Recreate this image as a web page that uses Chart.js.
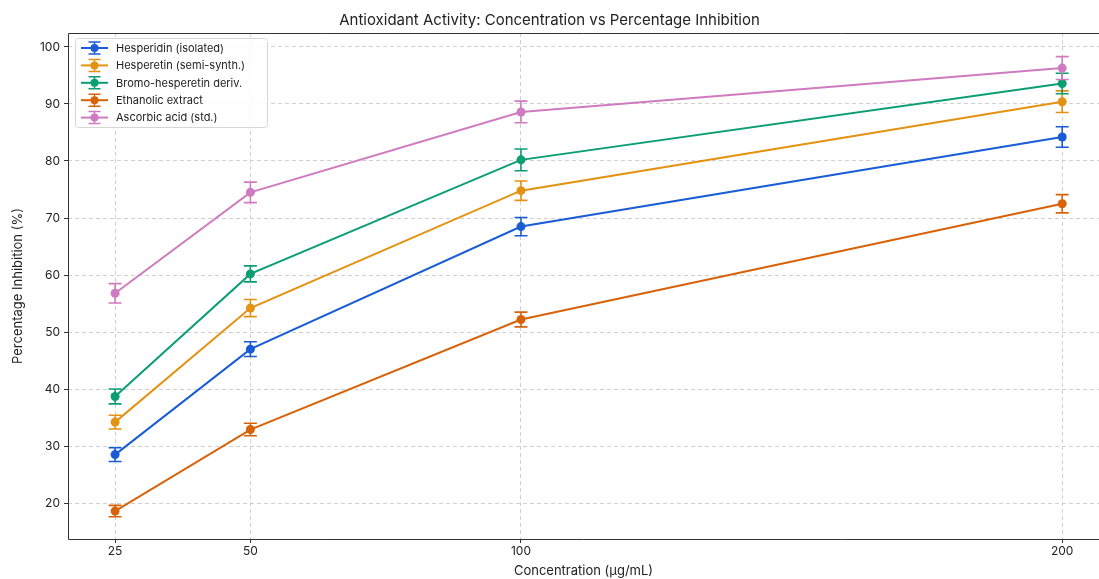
<!DOCTYPE html>
<html>
<head>
<meta charset="utf-8">
<script src="https://cdn.jsdelivr.net/npm/chart.js@4"></script>
<style>
  html, body { margin: 0; padding: 0; background: #fff; }
  #wrap { width: 1099px; height: 579px; }
</style>
</head>
<body>
<div id="wrap"><canvas id="antioxChart"></canvas></div>
<script>
// concentrations (µg/mL)
const concentrations = [25, 50, 100, 200];
const xTicks = [25, 50, 100, 200];
const yTicks = [20, 30, 40, 50, 60, 70, 80, 90, 100];

const seriesNames = [
  "Hesperidin (isolated)",
  "Hesperetin (semi-synth.)",
  "Bromo-hesperetin deriv.",
  "Ethanolic extract",
  "Ascorbic acid (std.)",
];
const hesperidin = [28.5, 47.0, 68.5, 84.2];
const hesperetin = [34.2, 54.2, 74.8, 90.4];
const bromoHesperetin = [38.7, 60.2, 80.2, 93.6];
const ethanolic = [18.6, 32.9, 52.2, 72.5];
const ascorbic = [56.8, 74.5, 88.6, 96.3];

const hesperidinErr = [1.2, 1.3, 1.6, 1.8];
const hesperetinErr = [1.2, 1.5, 1.7, 1.9];
const bromoErr = [1.3, 1.4, 1.9, 1.8];
const ethanolicErr = [1.0, 1.1, 1.3, 1.6];
const ascorbicErr = [1.7, 1.8, 1.9, 2.0];

const colors = ["#1a5cd6", "#e39212", "#0b9e73", "#d8620a", "#cf7bc0"];
const allValues = [hesperidin, hesperetin, bromoHesperetin, ethanolic, ascorbic];
const allErrors = [hesperidinErr, hesperetinErr, bromoErr, ethanolicErr, ascorbicErr];

const FONT = "Inter, 'DejaVu Sans', sans-serif";

const datasets = seriesNames.map(function (name, i) {
  return {
    label: name,
    data: concentrations.map(function (c, j) { return { x: c, y: allValues[i][j] }; }),
    errors: allErrors[i],
    borderColor: colors[i],
    backgroundColor: colors[i],
    pointBackgroundColor: colors[i],
    pointBorderColor: colors[i],
    pointBorderWidth: 0,
    pointRadius: 4.5,
    pointHoverRadius: 4.5,
    borderWidth: 2,
    tension: 0,
  };
});

// vertical error bars with caps
const errorBars = {
  id: "errorBars",
  afterDatasetsDraw(chart) {
    const ctx = chart.ctx;
    const y = chart.scales.y;
    chart.data.datasets.forEach(function (ds, i) {
      const meta = chart.getDatasetMeta(i);
      ctx.save();
      ctx.strokeStyle = ds.borderColor;
      ctx.lineWidth = 1.6;
      meta.data.forEach(function (pt, j) {
        const v = ds.data[j].y, e = ds.errors[j];
        const top = y.getPixelForValue(v + e);
        const bot = y.getPixelForValue(v - e);
        ctx.beginPath();
        ctx.moveTo(pt.x, top); ctx.lineTo(pt.x, bot);
        ctx.moveTo(pt.x - 6.5, top); ctx.lineTo(pt.x + 6.5, top);
        ctx.moveTo(pt.x - 6.5, bot); ctx.lineTo(pt.x + 6.5, bot);
        ctx.stroke();
      });
      ctx.restore();
    });
  },
};

// matplotlib-style legend in upper left of plot
const boxLegend = {
  id: "boxLegend",
  afterDraw(chart) {
    const ctx = chart.ctx;
    const area = chart.chartArea;
    const x0 = area.left + 7, y0 = area.top + 5;
    const rowH = 17.4, w = 192, h = 89;
    ctx.save();
    ctx.fillStyle = "rgba(255,255,255,0.85)";
    ctx.strokeStyle = "#d6d6d6";
    ctx.lineWidth = 1;
    ctx.beginPath();
    ctx.roundRect(x0 + 0.5, y0 + 0.5, w, h, 3);
    ctx.fill();
    ctx.stroke();
    ctx.font = "11px " + FONT;
    ctx.textBaseline = "middle";
    chart.data.datasets.forEach(function (ds, i) {
      const cy = y0 + 10 + i * rowH;
      const lx = x0 + 6, rx = x0 + 33, mx = (lx + rx) / 2;
      ctx.strokeStyle = ds.borderColor;
      ctx.lineWidth = 2;
      ctx.beginPath(); ctx.moveTo(lx, cy); ctx.lineTo(rx, cy); ctx.stroke();
      ctx.lineWidth = 1.5;
      ctx.beginPath();
      ctx.moveTo(mx, cy - 6); ctx.lineTo(mx, cy + 6);
      ctx.moveTo(mx - 6, cy - 6); ctx.lineTo(mx + 6, cy - 6);
      ctx.moveTo(mx - 6, cy + 6); ctx.lineTo(mx + 6, cy + 6);
      ctx.stroke();
      ctx.fillStyle = ds.borderColor;
      ctx.beginPath(); ctx.arc(mx, cy, 4, 0, Math.PI * 2); ctx.fill();
      ctx.fillStyle = "#222";
      ctx.fillText(ds.label, x0 + 41, cy + 0.5);
    });
    ctx.restore();
  },
};

// left and bottom frame lines plus top border
const frame = {
  id: "frame",
  afterDraw(chart) {
    const a = chart.chartArea, ctx = chart.ctx;
    ctx.save();
    ctx.strokeStyle = "#333";
    ctx.lineWidth = 1;
    ctx.beginPath();
    ctx.moveTo(a.right, a.top + 0.5);
    ctx.lineTo(a.left + 0.5, a.top + 0.5);
    ctx.lineTo(a.left + 0.5, a.bottom + 0.5);
    ctx.lineTo(a.right, a.bottom + 0.5);
    ctx.stroke();
    ctx.restore();
  },
};

new Chart(document.getElementById("antioxChart"), {
  type: "line",
  data: { datasets: datasets },
  plugins: [errorBars, boxLegend, frame],
  options: {
    responsive: true,
    maintainAspectRatio: false,
    animation: false,
    layout: { autoPadding: false, padding: { left: 0, right: 0, top: 0, bottom: 0 } },
    scales: {
      x: {
        type: "linear",
        min: 16.3,
        max: 206.8,
        afterBuildTicks(scale) { scale.ticks = xTicks.map(function (v) { return { value: v }; }); },
        afterFit(scale) { scale.height = 40; },
        grid: { color: "#d0d0d0", tickColor: "#333", tickLength: 4, drawTicks: true },
        border: { display: false, dash: [4, 3] },
        ticks: { color: "#222", font: { family: FONT, size: 12 }, padding: 1, maxRotation: 0, autoSkip: false },
        title: { display: true, text: "Concentration (µg/mL)", color: "#222", font: { family: FONT, size: 13 }, padding: { top: 3, bottom: 0 } },
      },
      y: {
        min: 13.7,
        max: 102.45,
        afterBuildTicks(scale) { scale.ticks = yTicks.map(function (v) { return { value: v }; }); },
        afterFit(scale) { scale.width = 68; },
        grid: { color: "#d0d0d0", tickColor: "#333", tickLength: 4 },
        border: { display: false, dash: [4, 3] },
        ticks: { color: "#222", font: { family: FONT, size: 12 }, padding: 4 },
        title: { display: true, text: "Percentage Inhibition (%)", color: "#222", font: { family: FONT, size: 13 }, padding: { top: 10, bottom: 4 } },
      },
    },
    plugins: {
      legend: { display: false },
      tooltip: { enabled: false },
      title: {
        display: true,
        text: "Antioxidant Activity: Concentration vs Percentage Inhibition",
        color: "#222",
        font: { family: FONT, size: 15, weight: "normal" },
        padding: { top: 11, bottom: 4 },
      },
    },
  },
});
</script>
</body>
</html>
